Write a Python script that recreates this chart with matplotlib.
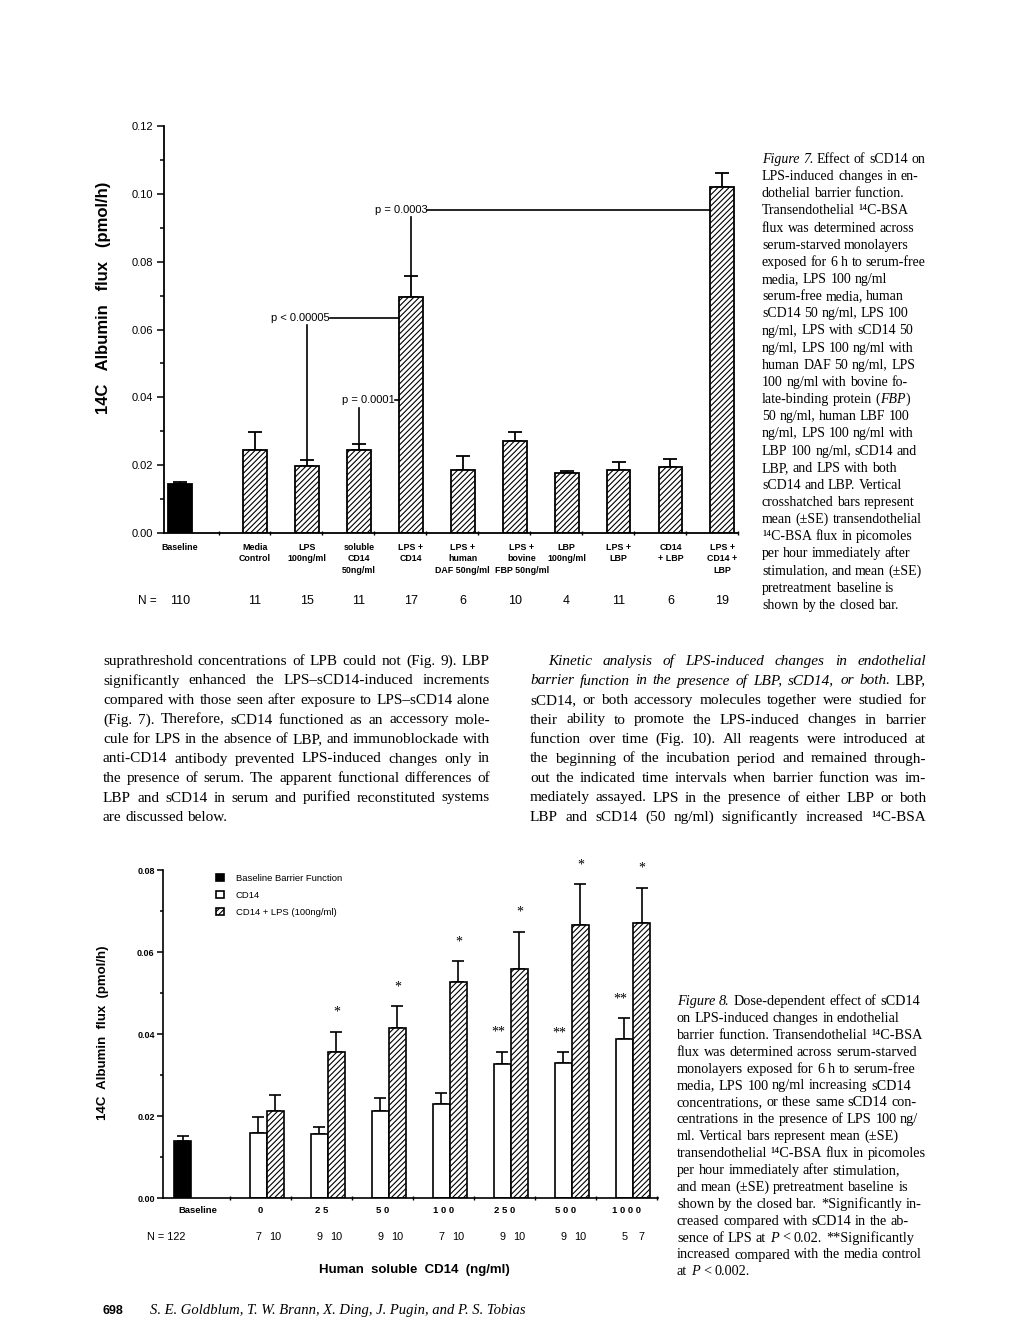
import numpy as np
import matplotlib
matplotlib.use('Agg')
import matplotlib.pyplot as plt
from matplotlib.font_manager import FontProperties
from matplotlib.transforms import blended_transform_factory, ScaledTranslation

# Figure 7 data
fig7_labels = ['Baseline', 'Media\nControl', 'LPS\n100ng/ml', 'soluble\nCD14\n50ng/ml',
               'LPS +\nCD14', 'LPS +\nhuman\nDAF 50ng/ml', 'LPS +\nbovine\nFBP 50ng/ml',
               'LBP\n100ng/ml', 'LPS +\nLBP', 'CD14\n+ LBP', 'LPS +\nCD14 +\nLBP']
fig7_mean = [0.0144, 0.0246, 0.0198, 0.0244, 0.0695, 0.0185, 0.0271, 0.0176, 0.0185, 0.0195, 0.1020]
fig7_se = [0.0007, 0.0051, 0.0017, 0.0019, 0.0062, 0.0042, 0.0027, 0.0006, 0.0023, 0.0023, 0.0042]
fig7_n = [110, 11, 15, 11, 17, 6, 10, 4, 11, 6, 19]
fig7_pvals = ['p < 0.00005', 'p = 0.0001', 'p = 0.0003']

# Figure 8 data
fig8_conc = ['0', '2 5', '5 0', '1 0 0', '2 5 0', '5 0 0', '1 0 0 0']
base_mean, base_se, base_n = 0.0140, 0.0012, 122
cd14_mean = [0.0158, 0.0155, 0.0212, 0.0229, 0.0328, 0.0330, 0.0387]
cd14_se = [0.0040, 0.0019, 0.0031, 0.0028, 0.0029, 0.0025, 0.0051]
lps_mean = [0.0211, 0.0356, 0.0414, 0.0528, 0.0559, 0.0667, 0.0670]
lps_se = [0.0040, 0.0050, 0.0054, 0.0050, 0.0091, 0.0099, 0.0087]
cd14_n = [7, 9, 9, 7, 9, 9, 5]
lps_n = [10, 10, 10, 10, 10, 10, 7]
star_lps = ['', '*', '*', '*', '*', '*', '*']
star_cd14 = ['', '', '', '', '**', '**', '**']

# page text
left_col = [
    'suprathreshold concentrations of LPB could not (Fig. 9). LBP',
    'significantly enhanced the LPS\u2013sCD14-induced increments',
    'compared with those seen after exposure to LPS\u2013sCD14 alone',
    '(Fig. 7). Therefore, sCD14 functioned as an accessory mole-',
    'cule for LPS in the absence of LBP, and immunoblockade with',
    'anti-CD14 antibody prevented LPS-induced changes only in',
    'the presence of serum. The apparent functional differences of',
    'LBP and sCD14 in serum and purified reconstituted systems',
    'are discussed below.',
]
right_col = [
    '_Kinetic analysis of LPS-induced changes in endothelial_',
    '_barrier function in the presence of LBP, sCD14, or both._ LBP,',
    'sCD14, or both accessory molecules together were studied for',
    'their ability to promote the LPS-induced changes in barrier',
    'function over time (Fig. 10). All reagents were introduced at',
    'the beginning of the incubation period and remained through-',
    'out the indicated time intervals when barrier function was im-',
    'mediately assayed. LPS in the presence of either LBP or both',
    'LBP and sCD14 (50 ng/ml) significantly increased \u00b9\u2074C-BSA',
]
caption7 = [
    '_Figure 7._ Effect of sCD14 on', 'LPS-induced changes in en-', 'dothelial barrier function.',
    'Transendothelial \u00b9\u2074C-BSA', 'flux was determined across', 'serum-starved monolayers',
    'exposed for 6 h to serum-free', 'media, LPS 100 ng/ml', 'serum-free media, human',
    'sCD14 50 ng/ml, LPS 100', 'ng/ml, LPS with sCD14 50', 'ng/ml, LPS 100 ng/ml with',
    'human DAF 50 ng/ml, LPS', '100 ng/ml with bovine fo-', 'late-binding protein (_FBP_)',
    '50 ng/ml, human LBF 100', 'ng/ml, LPS 100 ng/ml with', 'LBP 100 ng/ml, sCD14 and',
    'LBP, and LPS with both', 'sCD14 and LBP. Vertical', 'crosshatched bars represent',
    'mean (\u00b1SE) transendothelial', '\u00b9\u2074C-BSA flux in picomoles', 'per hour immediately after',
    'stimulation, and mean (\u00b1SE)', 'pretreatment baseline is', 'shown by the closed bar.',
]
caption8 = [
    '_Figure 8._ Dose-dependent effect of sCD14', 'on LPS-induced changes in endothelial',
    'barrier function. Transendothelial \u00b9\u2074C-BSA', 'flux was determined across serum-starved',
    'monolayers exposed for 6 h to serum-free', 'media, LPS 100 ng/ml increasing sCD14',
    'concentrations, or these same sCD14 con-', 'centrations in the presence of LPS 100 ng/',
    'ml. Vertical bars represent mean (\u00b1SE)', 'transendothelial \u00b9\u2074C-BSA flux in picomoles',
    'per hour immediately after stimulation,', 'and mean (\u00b1SE) pretreatment baseline is',
    'shown by the closed bar. *Significantly in-', 'creased compared with sCD14 in the ab-',
    'sence of LPS at _P_ < 0.02. **Significantly', 'increased compared with the media control',
    'at _P_ < 0.002.',
]

W, H = 1020, 1320
SERIF = ['Liberation Serif', 'DejaVu Serif']
SANS = ['Liberation Sans', 'DejaVu Sans']
plt.rcParams['font.family'] = SANS
plt.rcParams['hatch.linewidth'] = 0.8

fig = plt.figure(figsize=(W / 100, H / 100), dpi=100)
renderer = fig.canvas.get_renderer()


def fprop(size, ital):
    return FontProperties(family=SERIF, size=size, style='italic' if ital else 'normal')


def tw(s, size, ital):
    w, h, d = renderer.get_text_width_height_descent(s, fprop(size, ital), ismath=False)
    return w


def split_words(line):
    # words built from (text, italic) runs, "_" toggles italic
    words, cur, buf, ital = [], [], '', False
    for ch in line:
        if ch == '_':
            if buf:
                cur.append((buf, ital))
                buf = ''
            ital = not ital
        elif ch == ' ':
            if buf:
                cur.append((buf, ital))
                buf = ''
            if cur:
                words.append(cur)
                cur = []
        else:
            buf += ch
    if buf:
        cur.append((buf, ital))
    if cur:
        words.append(cur)
    return words


def paragraph(lines, x0, x1, y0, dy, size, justify=True, last_just=False, indent=0):
    space = tw('a a', size, False) - tw('aa', size, False)
    for k, line in enumerate(lines):
        words = split_words(line)
        widths = [sum(tw(t, size, i) for t, i in w) for w in words]
        xs = x0 + (indent if k == 0 else 0)
        last = k == len(lines) - 1
        gap = space
        if justify and (not last or last_just) and len(words) > 1:
            gap = (x1 - xs - sum(widths)) / (len(words) - 1)
        x = xs
        y = y0 + k * dy
        for w, wd in zip(words, widths):
            xx = x
            for t, i in w:
                fig.text(xx / W, 1 - y / H, t, fontproperties=fprop(size, i),
                         ha='left', va='baseline')
                xx += tw(t, size, i)
            x += wd + gap


# ---------------- Figure 7 ----------------
ax1 = fig.add_axes([164 / W, 1 - 533 / H, 574 / W, 407 / H])
pos7 = np.concatenate([[-0.44], np.arange(1, len(fig7_mean))])
bw7 = 0.46
colors7 = ['black'] + ['white'] * (len(fig7_mean) - 1)
hatch7 = [''] + ['//////'] * (len(fig7_mean) - 1)
for x, m, c, h in zip(pos7, fig7_mean, colors7, hatch7):
    ax1.bar(x, m, width=bw7, color=c, edgecolor='black', linewidth=1.3, hatch=h, zorder=2)
ax1.errorbar(pos7, fig7_mean, yerr=[np.zeros(len(fig7_se)), fig7_se], fmt='none',
             ecolor='black', elinewidth=1.3, capsize=5, capthick=1.3, zorder=1)
ax1.set_xlim(-0.75, 10.27)
ax1.set_ylim(0, 0.12)
ax1.set_yticks(np.arange(0, 0.121, 0.02))
ax1.set_yticklabels(['%.2f' % v for v in np.arange(0, 0.121, 0.02)], fontsize=8)
ax1.set_yticks(np.arange(0.01, 0.12, 0.02), minor=True)
ax1.set_xticks([])
ax1.set_xticks(np.arange(0.3, 10.4, 1.0), minor=True)
ax1.tick_params(axis='x', which='minor', length=3, width=1, direction='inout')
ax1.tick_params(axis='y', which='major', length=5, width=1.1, pad=3)
ax1.tick_params(axis='y', which='minor', length=3, width=1.1)
for s in ['top', 'right']:
    ax1.spines[s].set_visible(False)
for s in ['left', 'bottom']:
    ax1.spines[s].set_linewidth(1.3)

tr1 = blended_transform_factory(ax1.transData, ax1.transAxes)
for k, (x, lab) in enumerate(zip(pos7, fig7_labels)):
    t = tr1
    if k == 6:  # the FBP label sits a little right of its bar in the original
        t = tr1 + ScaledTranslation(7 / 100, 0, fig.dpi_scale_trans)
    ax1.text(x, -0.024, lab, transform=t, ha='center', va='top', multialignment='center',
             fontsize=6.4, fontweight='bold', linespacing=1.35)

ax1.text(-1.07, -0.167, 'N =', transform=tr1, ha='center', va='center', fontsize=8.5)
for x, n in zip(pos7, fig7_n):
    ax1.text(x, -0.167, str(n), transform=tr1, ha='center', va='center', fontsize=9)

# p-value brackets: (from bar, to bar, text right end, line height)
brackets = [(2, 4, 2.44, 0.0634), (3, 4, 3.70, 0.0392), (4, 10, 4.32, 0.0953)]
for (i, j, xr, yl), txt in zip(brackets, fig7_pvals):
    ax1.text(xr, yl, txt, ha='right', va='center', fontsize=8)
    ax1.plot([xr, pos7[j] - bw7 / 2], [yl, yl], color='black', lw=1.2, zorder=3)
    ax1.plot([pos7[i], pos7[i]], [yl - 0.0022, fig7_mean[i] + fig7_se[i]],
             color='black', lw=1.2, zorder=3)

fig.text(104 / W, 1 - 298 / H, '14C   Albumin   flux   (pmol/h)', rotation=90,
         ha='center', va='center', fontsize=12, fontweight='bold')

# ---------------- Figure 8 ----------------
ax2 = fig.add_axes([163 / W, 1 - 1198 / H, 495 / W, 328 / H])
grp = np.arange(len(fig8_conc))
bw8 = 0.28
base_x = -1.38
ax2.bar(base_x, base_mean, width=bw8, color='black', edgecolor='black', linewidth=1.2,
        label='Baseline Barrier Function', zorder=2)
ax2.bar(grp - bw8 / 2, cd14_mean, width=bw8, color='white', edgecolor='black',
        linewidth=1.2, label='CD14', zorder=2)
ax2.bar(grp + bw8 / 2, lps_mean, width=bw8, color='white', edgecolor='black',
        linewidth=1.2, hatch='//////', label='CD14 + LPS (100ng/ml)', zorder=2)
for xs, m, e in [([base_x], [base_mean], [base_se]), (grp - bw8 / 2, cd14_mean, cd14_se),
                 (grp + bw8 / 2, lps_mean, lps_se)]:
    ax2.errorbar(xs, m, yerr=[np.zeros(len(e)), e], fmt='none', ecolor='black',
                 elinewidth=1.2, capsize=4, capthick=1.2, zorder=1)
for g, s, m, e in zip(grp, star_lps, lps_mean, lps_se):
    if s:
        ax2.text(g + bw8 / 2, m + e + 0.0047, s, ha='center', va='center',
                 fontsize=10, family=SERIF)
for g, s, m, e in zip(grp, star_cd14, cd14_mean, cd14_se):
    if s:
        ax2.text(g - bw8 / 2 - 0.06, m + e + 0.0047, s, ha='center', va='center',
                 fontsize=10, family=SERIF)

ax2.set_xlim(-1.70, 6.41)
ax2.set_ylim(0, 0.08)
ax2.set_yticks(np.arange(0, 0.081, 0.02))
ax2.set_yticklabels(['%.2f' % v for v in np.arange(0, 0.081, 0.02)], fontsize=6.5,
                    fontweight='bold')
ax2.set_yticks(np.arange(0.01, 0.08, 0.02), minor=True)
ax2.set_xticks(np.concatenate([[-1.13], grp - 0.1]))
ax2.set_xticklabels(['Baseline'] + fig8_conc, fontsize=6.8, fontweight='bold')
ax2.set_xticks(np.concatenate([[-0.6], grp + 0.4]), minor=True)
ax2.tick_params(axis='x', which='major', length=0, pad=6)
ax2.tick_params(axis='x', which='minor', length=3, width=1, direction='inout')
ax2.tick_params(axis='y', which='major', length=4, width=1.1, pad=2)
ax2.tick_params(axis='y', which='minor', length=2.5, width=1.1)
for s in ['top', 'right']:
    ax2.spines[s].set_visible(False)
for s in ['left', 'bottom']:
    ax2.spines[s].set_linewidth(1.2)

tr2 = blended_transform_factory(ax2.transData, ax2.transAxes)
ax2.text(-1.64, -0.119, 'N = %d' % base_n, transform=tr2, ha='center', va='center', fontsize=7.8)
for g, a, b in zip(grp, cd14_n, lps_n):
    ax2.text(g - bw8 / 2, -0.119, str(a), transform=tr2, ha='center', va='center', fontsize=7.8)
    ax2.text(g + bw8 / 2, -0.119, str(b), transform=tr2, ha='center', va='center', fontsize=7.8)
ax2.text(0.507, -0.22, 'Human  soluble  CD14  (ng/ml)', transform=ax2.transAxes,
         ha='center', va='center', fontsize=9.5, fontweight='bold')

ax2.legend(loc='upper left', bbox_to_anchor=(0.1, 1.0), frameon=False, fontsize=6.8,
           handlelength=0.85, handleheight=0.85, handletextpad=1.2, labelspacing=0.85,
           borderaxespad=0)

fig.text(103 / W, 1 - 1033 / H, '14C  Albumin  flux  (pmol/h)', rotation=90,
         ha='center', va='center', fontsize=9.5, fontweight='bold')

# ---------------- page text ----------------
paragraph(caption7, 762, 930, 163, 17.15, 10.0, justify=False)
paragraph(left_col, 103, 490, 665, 19.5, 11.0)
paragraph(right_col, 530, 926, 665, 19.5, 11.0, last_just=True, indent=18)
paragraph(caption8, 677, 930, 1005, 16.9, 10.3, justify=False)

fig.text(103 / W, 1 - 1314 / H, '698', fontsize=9, fontweight='bold', ha='left', va='baseline')
fig.text(150 / W, 1 - 1314 / H, 'S. E. Goldblum, T. W. Brann, X. Ding, J. Pugin, and P. S. Tobias',
         fontproperties=fprop(10.5, True), ha='left', va='baseline')

fig.savefig('out.png', dpi=100, facecolor='white')
